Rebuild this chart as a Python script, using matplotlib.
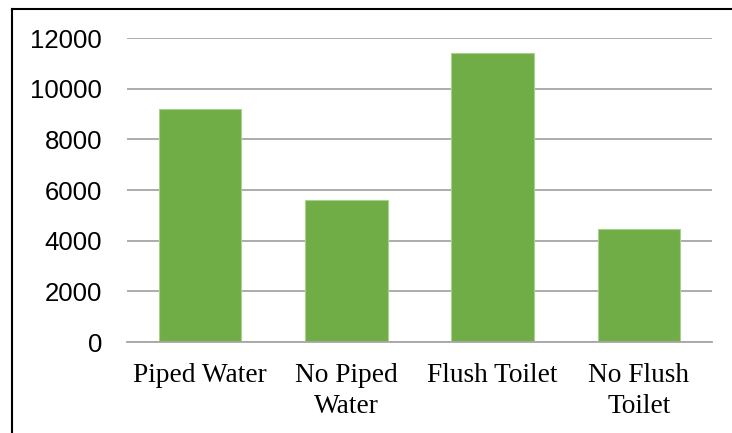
import matplotlib
matplotlib.use("Agg")
import matplotlib.pyplot as plt
from matplotlib.lines import Line2D

categories = ["Piped Water", "No Piped\nWater", "Flush Toilet", "No Flush\nToilet"]
values = [9200, 5600, 11400, 4450]
yticks = [0, 2000, 4000, 6000, 8000, 10000, 12000]

fig = plt.figure(figsize=(7.32, 4.33), dpi=100)
ax = fig.add_axes([127/732, 1-342/433, (712-127)/732, (342-38)/433])

x = list(range(len(categories)))
ax.bar(x, values, width=0.565, color="#70AD47", edgecolor="#A9D18E", linewidth=0.8, zorder=3)
ax.set_xlim(-0.5, len(categories)-0.5)
ax.set_ylim(0, 12000)
ax.set_yticks(yticks)
ax.set_yticklabels([str(v) for v in yticks], fontfamily="Liberation Sans", fontsize=18.5)
ax.set_xticks(x)
ax.set_xticklabels(categories, fontfamily="Liberation Serif", fontsize=19.7, linespacing=1.32)
ax.tick_params(axis="y", length=0, pad=18)
ax.tick_params(axis="x", length=0, pad=15)
ax.grid(axis="y", color="#A6A6A6", linewidth=1.3, zorder=0)
for s in ["top", "right", "left"]:
    ax.spines[s].set_visible(False)
ax.spines["bottom"].set_color("#A6A6A6")
ax.spines["bottom"].set_linewidth(1.3)
ax.spines["bottom"].set_zorder(4)

# outer chart border (top and left visible)
fig.add_artist(Line2D([12/732, 12/732], [0, 1-9/433], color="black", linewidth=1.5, transform=fig.transFigure))
fig.add_artist(Line2D([12/732, 1.0], [1-9/433, 1-9/433], color="black", linewidth=1.5, transform=fig.transFigure))

fig.savefig("out.png", dpi=100)
